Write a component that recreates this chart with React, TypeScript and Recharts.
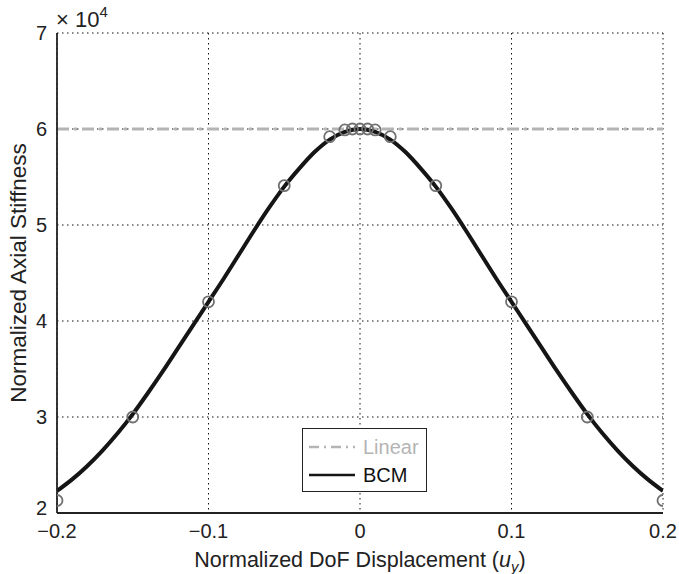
import React from 'react';
import { LineChart, Line, XAxis, YAxis, CartesianGrid, Legend } from 'recharts';

// Axis ticks
const X_TICKS = [-0.2, -0.1, 0, 0.1, 0.2];
const Y_TICKS = [2, 3, 4, 5, 6, 7];

// BCM curve, normalized displacement vs stiffness (x 10^4)
const BCM_U = [
  -0.2, -0.19, -0.18, -0.17, -0.16, -0.15, -0.14, -0.13, -0.12, -0.11, -0.1,
  -0.09, -0.08, -0.07, -0.06, -0.05, -0.04, -0.03, -0.02, -0.01, 0,
  0.01, 0.02, 0.03, 0.04, 0.05, 0.06, 0.07, 0.08, 0.09, 0.1,
  0.11, 0.12, 0.13, 0.14, 0.15, 0.16, 0.17, 0.18, 0.19, 0.2,
];
const BCM_K = [
  2.23, 2.35, 2.49, 2.65, 2.83, 3.03, 3.25, 3.48, 3.72, 3.96, 4.2,
  4.44, 4.69, 4.94, 5.18, 5.4, 5.59, 5.76, 5.89, 5.97, 6.0,
  5.97, 5.89, 5.76, 5.59, 5.4, 5.18, 4.94, 4.69, 4.44, 4.2,
  3.96, 3.72, 3.48, 3.25, 3.03, 2.83, 2.65, 2.49, 2.35, 2.23,
];

// circle markers (sampled solution)
const MARK_U = [-0.2, -0.15, -0.1, -0.05, -0.02, -0.01, -0.005, 0, 0.005, 0.01, 0.02, 0.05, 0.1, 0.15, 0.2];
const MARK_K = [2.13, 3.0, 4.2, 5.41, 5.92, 5.99, 6.0, 6.0, 6.0, 5.99, 5.92, 5.41, 4.2, 3.0, 2.13];

// linear stiffness
const LIN_U = [-0.2, 0.2];
const LIN_K = [6.0, 6.0];

const bcmData = BCM_U.map((u, i) => ({ u, k: BCM_K[i] }));
const markData = MARK_U.map((u, i) => ({ u, k: MARK_K[i] }));
const linData = LIN_U.map((u, i) => ({ u, k: LIN_K[i] }));

const FONT = '"Liberation Sans", Arial, Helvetica, sans-serif';
const LIN_COLOR = '#b4b4b4';
const BCM_COLOR = '#151515';
const MARK_COLOR = '#707070';

const fmtX = (v: number) => (v < 0 ? '\u2212' + Math.abs(v) : String(v));

const renderLegend = () => (
  <div
    style={{
      border: '1.5px solid #222',
      background: '#fff',
      width: 125,
      height: 64,
      boxSizing: 'border-box',
      fontFamily: FONT,
      fontSize: 20,
      padding: '4px 0 0 4px',
    }}
  >
    <div style={{ display: 'flex', alignItems: 'center', height: 28, color: LIN_COLOR }}>
      <svg width={50} height={10}>
        <line x1={2} y1={5} x2={48} y2={5} stroke={LIN_COLOR} strokeWidth={2.5} strokeDasharray="10 5 2 5" />
      </svg>
      <span style={{ marginLeft: 6 }}>Linear</span>
    </div>
    <div style={{ display: 'flex', alignItems: 'center', height: 28, color: '#111' }}>
      <svg width={50} height={10}>
        <line x1={2} y1={5} x2={48} y2={5} stroke={BCM_COLOR} strokeWidth={2.5} />
      </svg>
      <span style={{ marginLeft: 6 }}>BCM</span>
    </div>
  </div>
);

const XLabel = (props: any) => {
  const { x, y, width } = props.viewBox;
  return (
    <text x={x + width / 2} y={y + 54} textAnchor="middle" fontFamily={FONT} fontSize={21.5} fill="#222">
      Normalized DoF Displacement (<tspan fontStyle="italic">u</tspan>
      <tspan fontStyle="italic" fontSize={15} dy={5}>y</tspan>
      <tspan dy={-5}>)</tspan>
    </text>
  );
};

const YLabel = (props: any) => {
  const { y, height } = props.viewBox;
  const cx = 18;
  const cy = y + height / 2;
  return (
    <g>
      <text
        x={cx}
        y={cy}
        transform={`rotate(-90 ${cx} ${cy})`}
        textAnchor="middle"
        dominantBaseline="central"
        fontFamily={FONT}
        fontSize={22.5}
        fill="#222"
      >
        Normalized Axial Stiffness
      </text>
      <text x={56} y={y - 6} fontFamily={FONT} fontSize={22} fill="#222">
        {'\u00d7'} 10<tspan fontSize={15} dy={-10}>4</tspan>
      </text>
    </g>
  );
};

// y tick: lowest label nudged up so it clears the x tick below it
const YTick = (props: any) => {
  const { x, y, payload } = props;
  const shift = payload.value === Y_TICKS[0] ? -5 : 0;
  return (
    <text
      x={x}
      y={y + shift}
      textAnchor="end"
      dominantBaseline="central"
      fontFamily={FONT}
      fontSize={20}
      fill="#222"
    >
      {payload.value}
    </text>
  );
};

const tickStyle = { fontFamily: FONT, fontSize: 20, fill: '#222' };

export default function App() {
  return (
    <div style={{ position: 'absolute', left: 0, top: 0, width: 679, height: 574, background: '#fff' }}>
      <LineChart width={679} height={574} margin={{ top: 33, right: 16, bottom: 0, left: 0 }}>
        <CartesianGrid stroke="#111" strokeDasharray="1.5 3.5" strokeWidth={1} />
        <XAxis
          dataKey="u"
          type="number"
          domain={[-0.2, 0.2]}
          ticks={X_TICKS}
          tickFormatter={fmtX}
          tick={tickStyle}
          tickSize={0}
          tickMargin={11}
          height={61}
          axisLine={{ stroke: '#222', strokeWidth: 1.8 }}
          allowDataOverflow
          label={{ content: XLabel }}
        />
        <XAxis
          xAxisId="top"
          dataKey="u"
          type="number"
          domain={[-0.2, 0.2]}
          orientation="top"
          height={0}
          tick={false}
          tickLine={false}
          axisLine={{ stroke: '#222', strokeWidth: 1.8 }}
        />
        <YAxis
          type="number"
          domain={[2, 7]}
          ticks={Y_TICKS}
          tick={<YTick />}
          tickSize={0}
          tickMargin={10}
          width={57}
          axisLine={{ stroke: '#222', strokeWidth: 1.8 }}
          allowDataOverflow
          label={{ content: YLabel }}
        />
        <YAxis
          yAxisId="right"
          type="number"
          domain={[2, 7]}
          orientation="right"
          width={0}
          tick={false}
          tickLine={false}
          axisLine={{ stroke: '#222', strokeWidth: 1.8 }}
        />
        <Legend
          layout="horizontal"
          verticalAlign="middle"
          align="center"
          content={renderLegend}
          wrapperStyle={{ left: 302, top: 428, width: 125, height: 64 }}
        />
        <Line
          data={linData}
          dataKey="k"
          stroke={LIN_COLOR}
          strokeWidth={3}
          strokeDasharray="12 5 3 5"
          dot={false}
          isAnimationActive={false}
        />
        <Line
          data={bcmData}
          dataKey="k"
          type="monotone"
          stroke={BCM_COLOR}
          strokeWidth={4}
          dot={false}
          isAnimationActive={false}
        />
        <Line
          data={markData}
          dataKey="k"
          stroke="none"
          dot={{ r: 5.5, stroke: MARK_COLOR, strokeWidth: 1.8, fill: 'none' }}
          isAnimationActive={false}
        />
      </LineChart>
    </div>
  );
}
